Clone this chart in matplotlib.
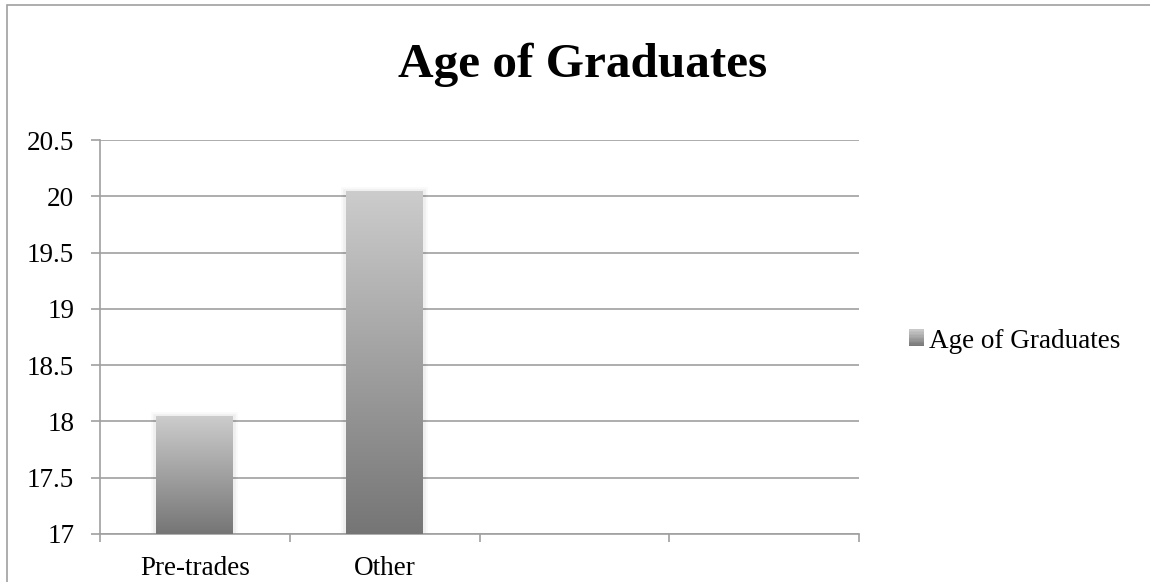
import numpy as np
import matplotlib as mpl
mpl.use("Agg")
from matplotlib import pyplot as plt
from matplotlib.patches import Rectangle
from matplotlib.legend_handler import HandlerBase
from matplotlib import patheffects as pe

plt.rcParams['font.family'] = ['Liberation Serif', 'DejaVu Serif']

# graduate ages per program
categories = ["Pre-trades", "Other", "", ""]
ages = [18.04, 20.04]
series_name = "Age of Graduates"
yticks = [17, 17.5, 18, 18.5, 19, 19.5, 20, 20.5]

grid_color = "#a0a0a0"
top_gray = np.array([0.80, 0.80, 0.80])
bottom_gray = np.array([0.46, 0.46, 0.46])
gradient = np.linspace(0, 1, 256)[:, None, None] * (top_gray - bottom_gray) + bottom_gray
gradient = np.repeat(gradient, 2, axis=1)


class GradientSquare(HandlerBase):
    def create_artists(self, legend, orig_handle, xdescent, ydescent, width, height, fontsize, trans):
        n = 12
        out = []
        for i in range(n):
            c = bottom_gray + (top_gray - bottom_gray) * (i + 0.5) / n
            r = Rectangle((-xdescent, -ydescent + height * i / n), width, height / n + 0.3,
                          facecolor=c, edgecolor="none", transform=trans)
            out.append(r)
        return out


fig = plt.figure(figsize=(11.5, 5.82), dpi=100)
ax = fig.add_axes([100 / 1150, 48 / 582, 759 / 1150, 394 / 582])

# outer chart frame
fig.patches.append(Rectangle((7 / 1150, -0.2), 1.2, 1.2 - 5 / 582 + 0.0, transform=fig.transFigure,
                             facecolor="none", edgecolor=grid_color, lw=1.2))

x = np.arange(len(ages))
bars = ax.bar(x, [a - 17 for a in ages], bottom=17, width=0.405, color="#999999", zorder=2,
              path_effects=[pe.Stroke(linewidth=7, foreground=(0, 0, 0, 0.025)),
                            pe.Stroke(linewidth=4, foreground=(0, 0, 0, 0.04)),
                            pe.Normal()])
for rect in bars:
    x0, w = rect.get_x(), rect.get_width()
    y0, h = rect.get_y(), rect.get_height()
    ax.imshow(gradient, extent=(x0, x0 + w, y0, y0 + h), origin="lower", aspect="auto",
              interpolation="bilinear", zorder=3)

ax.set_xlim(-0.5, len(categories) - 0.5)
ax.set_ylim(17, 20.5)
ax.set_yticks(yticks)
ax.set_yticklabels(["{:g}".format(t) for t in yticks])
ax.yaxis.grid(True, color=grid_color, lw=1.2)
ax.set_axisbelow(True)

# category boundary ticks, labels centred between them
ax.set_xticks(np.arange(len(categories) + 1) - 0.5)
ax.set_xticklabels([])
ax.set_xticks(np.arange(len(categories)), minor=True)
ax.set_xticklabels(categories, minor=True)
ax.tick_params(axis="x", which="major", length=5.5, width=1.2, color=grid_color)
ax.tick_params(axis="x", which="minor", length=0, pad=16, labelsize=19.5)
ax.tick_params(axis="y", length=6.5, width=1.2, color=grid_color, pad=12, labelsize=19.5)

for s in ["top", "right"]:
    ax.spines[s].set_visible(False)
for s in ["left", "bottom"]:
    ax.spines[s].set_color(grid_color)
    ax.spines[s].set_linewidth(1.2)

fig.text(583 / 1150, 1 - 77 / 582, series_name, ha="center", va="baseline",
         fontsize=35.5, fontweight="bold")

leg = fig.legend([Rectangle((0, 0), 1, 1)], [series_name], handler_map={Rectangle: GradientSquare()},
                 loc="center left", bbox_to_anchor=(909 / 1150, 1 - 341 / 582),
                 frameon=False, borderpad=0, borderaxespad=0, fontsize=19.5,
                 handlelength=0.55, handleheight=0.55, handletextpad=0.17)

fig.savefig("out.png", dpi=100)
